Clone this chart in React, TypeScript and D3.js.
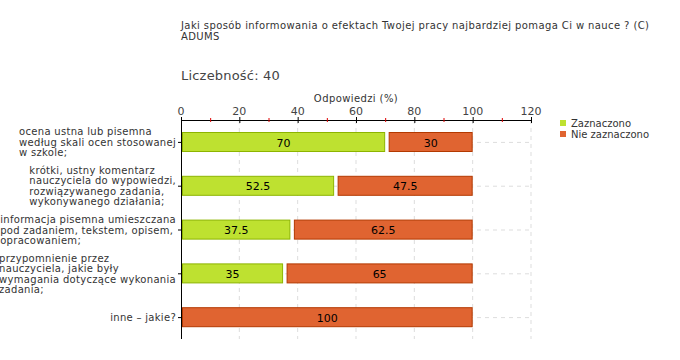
import React, { useEffect, useRef } from 'react';
import * as d3 from 'd3';

// chart data
const categories = [
  ['ocena ustna lub pisemna', 'według skali ocen stosowanej', 'w szkole;'],
  ['krótki, ustny komentarz', 'nauczyciela do wypowiedzi,', 'rozwiązywanego zadania,', 'wykonywanego działania;'],
  ['informacja pisemna umieszczana', 'pod zadaniem, tekstem, opisem,', 'opracowaniem;'],
  ['przypomnienie przez', 'nauczyciela, jakie były', 'wymagania dotyczące wykonania', 'zadania;'],
  ['inne – jakie?'],
];
const zaznaczono = [70, 52.5, 37.5, 35, 0];
const nieZaznaczono = [30, 47.5, 62.5, 65, 100];
const seriesNames = ['Zaznaczono', 'Nie zaznaczono'];
const xTicks = [0, 20, 40, 60, 80, 100, 120];
const minorTicks = [10, 30, 50, 70, 90, 110];

const titleLines = ['Jaki sposób informowania o efektach Twojej pracy najbardziej pomaga Ci w nauce ? (C)', 'ADUMS'];
const countLabel = 'Liczebność: 40';

const width = 680;
const height = 360;
const margin = { top: 120, left: 181, right: 150, bottom: 21 };
const font = 'DejaVu Sans, Verdana, sans-serif';
const colors = ['#bee130', '#e06431'];
const strokes = ['#8db400', '#b33900'];

function App() {
  const ref = useRef<SVGSVGElement>(null);

  useEffect(() => {
    const svg = d3.select(ref.current);
    svg.selectAll('*').remove();

    const x = d3.scaleLinear().domain([0, 120]).range([margin.left, width - margin.right + 1]);
    const y = d3.scaleBand().domain(categories.map((_, i) => String(i))).range([margin.top, height - margin.bottom]);

    // title
    svg.append('g').selectAll('text').data(titleLines).join('text')
      .attr('x', 181).attr('y', (_, i) => 29 + i * 11)
      .attr('font-family', font).attr('font-size', 10).attr('fill', '#333')
      .attr('letter-spacing', 0.4)
      .text(d => d);

    svg.append('text').attr('x', 181).attr('y', 80)
      .attr('font-family', font).attr('font-size', 13).attr('fill', '#444')
      .attr('letter-spacing', 0.2)
      .text(countLabel);

    // grid
    const grid = svg.append('g');
    grid.selectAll('line.v').data(xTicks.slice(1)).join('line')
      .attr('x1', d => x(d)).attr('x2', d => x(d))
      .attr('y1', margin.top).attr('y2', height - margin.bottom)
      .attr('stroke', '#ddd').attr('stroke-dasharray', '4,4');
    grid.selectAll('line.h').data(categories).join('line')
      .attr('x1', x(0)).attr('x2', x(120))
      .attr('y1', (_, i) => y(String(i))! + y.bandwidth() / 2 + 0.5)
      .attr('y2', (_, i) => y(String(i))! + y.bandwidth() / 2 + 0.5)
      .attr('stroke', '#ddd').attr('stroke-dasharray', '4,4');

    // bars
    const rows = categories.map((_, i) => [zaznaczono[i], nieZaznaczono[i]]);
    rows.forEach((vals, i) => {
      let start = 0;
      vals.forEach((v, s) => {
        if (v <= 0) return;
        const x0 = x(start) + (start > 0 ? 4 : 1.5);
        const x1 = x(start + v) - 0.5;
        const by = y(String(i))! + 12.5;
        svg.append('rect')
          .attr('x', x0).attr('y', by).attr('width', x1 - x0).attr('height', 19)
          .attr('fill', colors[s]).attr('stroke', strokes[s]).attr('stroke-width', 1);
        svg.append('text')
          .attr('x', (x0 + x1) / 2).attr('y', by + 14)
          .attr('text-anchor', 'middle')
          .attr('font-family', font).attr('font-size', 11).attr('fill', '#000')
          .text(String(v));
        start += v;
      });
    });

    // x axis (top)
    const ax = svg.append('g');
    ax.append('line').attr('x1', x(0)).attr('x2', x(120)).attr('y1', margin.top + 0.5).attr('y2', margin.top + 0.5)
      .attr('stroke', '#000');
    ax.selectAll('line.mj').data(xTicks).join('line')
      .attr('x1', d => x(d) + 0.5).attr('x2', d => x(d) + 0.5)
      .attr('y1', margin.top - 3).attr('y2', margin.top + 3).attr('stroke', '#000');
    ax.selectAll('line.mn').data(minorTicks).join('line')
      .attr('class', 'mn')
      .attr('x1', d => x(d) + 0.5).attr('x2', d => x(d) + 0.5)
      .attr('y1', margin.top - 2).attr('y2', margin.top + 2).attr('stroke', '#e00000');
    ax.selectAll('text').data(xTicks).join('text')
      .attr('x', d => x(d)).attr('y', margin.top - 5)
      .attr('text-anchor', 'middle')
      .attr('font-family', font).attr('font-size', 11).attr('fill', '#444')
      .text(d => String(d));
    svg.append('text').attr('x', (x(0) + x(120)) / 2).attr('y', 102)
      .attr('text-anchor', 'middle')
      .attr('font-family', font).attr('font-size', 10).attr('fill', '#333')
      .attr('letter-spacing', 0.4)
      .text('Odpowiedzi (%)');

    // y axis
    svg.append('line').attr('x1', x(0) + 0.5).attr('x2', x(0) + 0.5)
      .attr('y1', margin.top).attr('y2', height - margin.bottom).attr('stroke', '#000');
    categories.forEach((lines, i) => {
      const cy = y(String(i))! + y.bandwidth() / 2;
      svg.append('line').attr('x1', x(0) - 3).attr('x2', x(0))
        .attr('y1', cy + 0.5).attr('y2', cy + 0.5).attr('stroke', '#000');
      const g = svg.append('g');
      const lh = 10.5;
      const texts = g.selectAll('text').data(lines).join('text')
        .attr('y', (_, j) => cy + (j - (lines.length - 1) / 2) * lh + 4)
        .attr('font-family', font).attr('font-size', 10).attr('fill', '#333')
        .attr('letter-spacing', 0.3)
        .text(d => d);
      let maxW = 0;
      texts.each(function () {
        maxW = Math.max(maxW, (this as SVGTextElement).getComputedTextLength());
      });
      texts.attr('x', x(0) - 5 - maxW);
    });

    // legend
    const lg = svg.append('g');
    seriesNames.forEach((name, i) => {
      lg.append('rect').attr('x', 560).attr('y', 120 + i * 11).attr('width', 6).attr('height', 6)
        .attr('fill', colors[i]);
      lg.append('text').attr('x', 571).attr('y', 127 + i * 11)
        .attr('font-family', font).attr('font-size', 10).attr('fill', '#333')
        .text(name);
    });
  }, []);

  return (
    <svg ref={ref} width={width} height={height}
      style={{ position: 'absolute', left: 0, top: 0, background: '#fff' }} />
  );
}

export default App;
